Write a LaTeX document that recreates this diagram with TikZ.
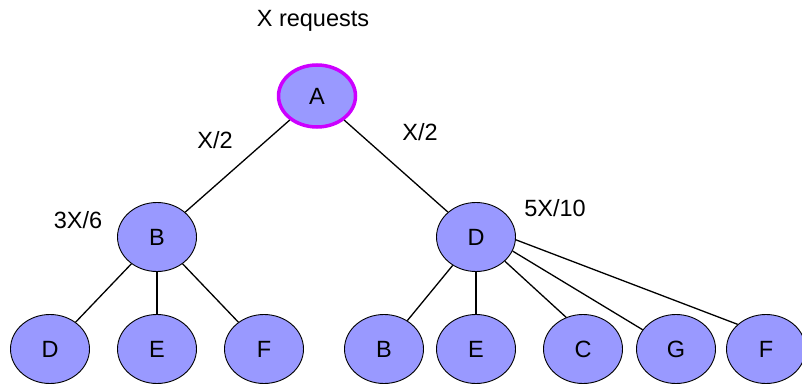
\documentclass[tikz,border=0pt]{standalone}
\usepackage{fontspec}
\setmainfont{Liberation Sans}
\usetikzlibrary{shapes.geometric}
\definecolor{peerblue}{RGB}{153,153,255}
\definecolor{originmag}{RGB}{204,0,255}
\tikzset{
	peer/.style={ellipse, draw, fill=peerblue, line width=0.9pt, minimum width=79pt, minimum height=69pt, inner sep=0pt},
	origin/.style={peer, draw=originmag, line width=3.5pt, minimum width=77pt, minimum height=62pt},
	share/.style={anchor=base, inner sep=0pt},
	link/.style={line width=1.3pt},
}

\begin{document}
\begin{tikzpicture}[x=1pt, y=-1pt, font=\fontsize{23.5}{28}\selectfont]
			\useasboundingbox (0,0) rectangle (802,385);
			% requesting peer and its two neighbours
			\node[origin] (A) at (317,96) {A};
			\node[peer] (B) at (157,237) {B};
			\node[peer] (D) at (476,237) {D};
			% neighbours of B
			\node[peer] (BD) at (50,349) {D};
			\node[peer] (BE) at (157,349) {E};
			\node[peer] (BF) at (264,349) {F};
			% neighbours of D
			\node[peer] (DB) at (384,349) {B};
			\node[peer] (DE) at (476,349) {E};
			\node[peer] (DC) at (583,349) {C};
			\node[peer] (DG) at (676,349) {G};
			\node[peer] (DF) at (766,349) {F};
			% links
			\draw[link] (A) -- (B);
			\draw[link] (A) -- (D);
			\foreach \n in {BD, BE, BF}{
				\draw[link] (B) -- (\n);
			}
			\draw[link] (D) -- (DB);
			\draw[link] (D) -- (DE);
			\draw[link] (D.-40) -- (DC.118);
			\draw[link] (D.-21) -- (DG.150);
			\draw[link] (D.-4) -- (DF.139);
			% request shares
			\node[share] (req) at (313,27) {X requests};
			\node[share] (shareB) at (215,148) {X/2};
			\node[share] (shareD) at (420,140) {X/2};
			\node[share] (splitB) at (78,228) {3X/6};
			\node[share] (splitD) at (555,216) {5X/10};
		\end{tikzpicture}
\end{document}
